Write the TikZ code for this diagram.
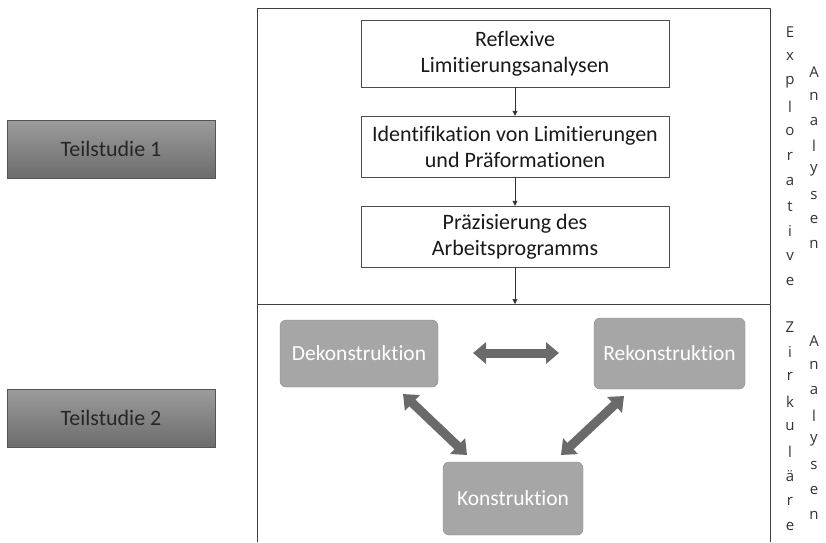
\documentclass[tikz,border=0pt]{standalone}
\usepackage{fontspec}
\setmainfont{Carlito}[Ligatures={NoCommon}]
\newfontfamily\sidefont{Open Sans}
\usetikzlibrary{arrows.meta,positioning,calc}
\definecolor{tsTop}{HTML}{9C9C9C}
\definecolor{tsBot}{HTML}{6C6C6C}
\definecolor{tsLine}{HTML}{555555}
\definecolor{rbFill}{HTML}{A6A6A6}
\definecolor{rbLine}{HTML}{8A8A8A}
\definecolor{fatArrow}{HTML}{6A6A6A}
\definecolor{frameLine}{HTML}{404040}
\begin{document}
\begin{tikzpicture}[x=1pt,y=-1pt,
  tsbox/.style={draw=tsLine,top color=tsTop,bottom color=tsBot,minimum width=208pt,minimum height=58pt,font=\fontsize{22}{26}\selectfont,text=black!85,inner sep=0pt},
  flowbox/.style={draw=black!70,fill=white,minimum width=308pt,inner sep=0pt,align=center,font=\fontsize{22}{26}\selectfont,text=black!90},
  roundbox/.style={draw=rbLine,fill=rbFill,rounded corners=6pt,inner sep=0pt,font=\fontsize{21.5}{24}\selectfont,text=white},
  thinarrow/.style={draw=black!80,line width=0.6pt,-{Triangle[length=5pt,width=5pt]}},
  fatarrow/.style={draw=fatArrow,line width=9pt,{Triangle[length=13pt,width=21pt]}-{Triangle[length=13pt,width=21pt]},shorten <=0pt,shorten >=0pt},
  sideletter/.style={font=\sidefont\fontsize{15}{16}\selectfont,text=black!80,inner sep=0pt}
]
\useasboundingbox (0,0) rectangle (826,542);
\fill[white] (0,0) rectangle (826,542);

% frame
\draw[frameLine,line width=0.9pt] (257,542) -- (257,8) -- (770,8) -- (770,542);
\draw[frameLine,line width=0.9pt] (257,304) coordinate (divL) -- (770,304) coordinate (divR);
\coordinate (divC) at (515,304);

% Teilstudien
\node[tsbox] (ts1) at (111,149) {Teilstudie 1};
\node[tsbox] (ts2) at (111,418) {Teilstudie 2};

% flow boxes
\node[flowbox,minimum height=67pt] (f1) at (515,53.5) {Reflexive\\Limitierungsanalysen};
\node[flowbox,minimum height=61pt] (f2) at (515,146.5) {Identifikation von Limitierungen\\und Präformationen};
\node[flowbox,minimum height=61pt] (f3) at (515,236.5) {Präzisierung des\\Arbeitsprogramms};
\draw[thinarrow] (f1) -- (f2);
\draw[thinarrow] (f2) -- (f3);
\draw[thinarrow] (f3) -- (divC);

% round boxes
\node[roundbox,minimum width=158pt,minimum height=67pt] (dek) at (359,353.5) {Dekonstruktion};
\node[roundbox,minimum width=151pt,minimum height=71pt] (rek) at (669.5,353.5) {Rekonstruktion};
\node[roundbox,minimum width=140pt,minimum height=73pt] (kon) at (513,498.5) {Konstruktion};

\coordinate (h1) at (473,353);
\coordinate (h2) at (559,353);
\coordinate (d1) at (403,394);
\coordinate (d2) at (467,455);
\coordinate (r1) at (624,396);
\coordinate (r2) at (561,455);
\draw[fatarrow] (h1) -- (h2);
\draw[fatarrow] (d1) -- (d2);
\draw[fatarrow] (r1) -- (r2);

% side letters
\foreach \ch [count=\i from 0] in {E,x,p,l,o,r,a,t,i,v,e}
  \node[sideletter] (sa\i) at (790,32+24.9*\i) {\ch};
\foreach \ch [count=\i from 0] in {A,n,a,l,y,s,e,n}
  \node[sideletter] (sb\i) at (814,72+24.6*\i) {\ch};
\foreach \ch [count=\i from 0] in {Z,i,r,k,u,l,ä,r,e}
  \node[sideletter] (sc\i) at (790,327+24.9*\i) {\ch};
\foreach \ch [count=\i from 0] in {A,n,a,l,y,s,e,n}
  \node[sideletter] (sd\i) at (814,341+24.9*\i) {\ch};
\end{tikzpicture}
\end{document}
